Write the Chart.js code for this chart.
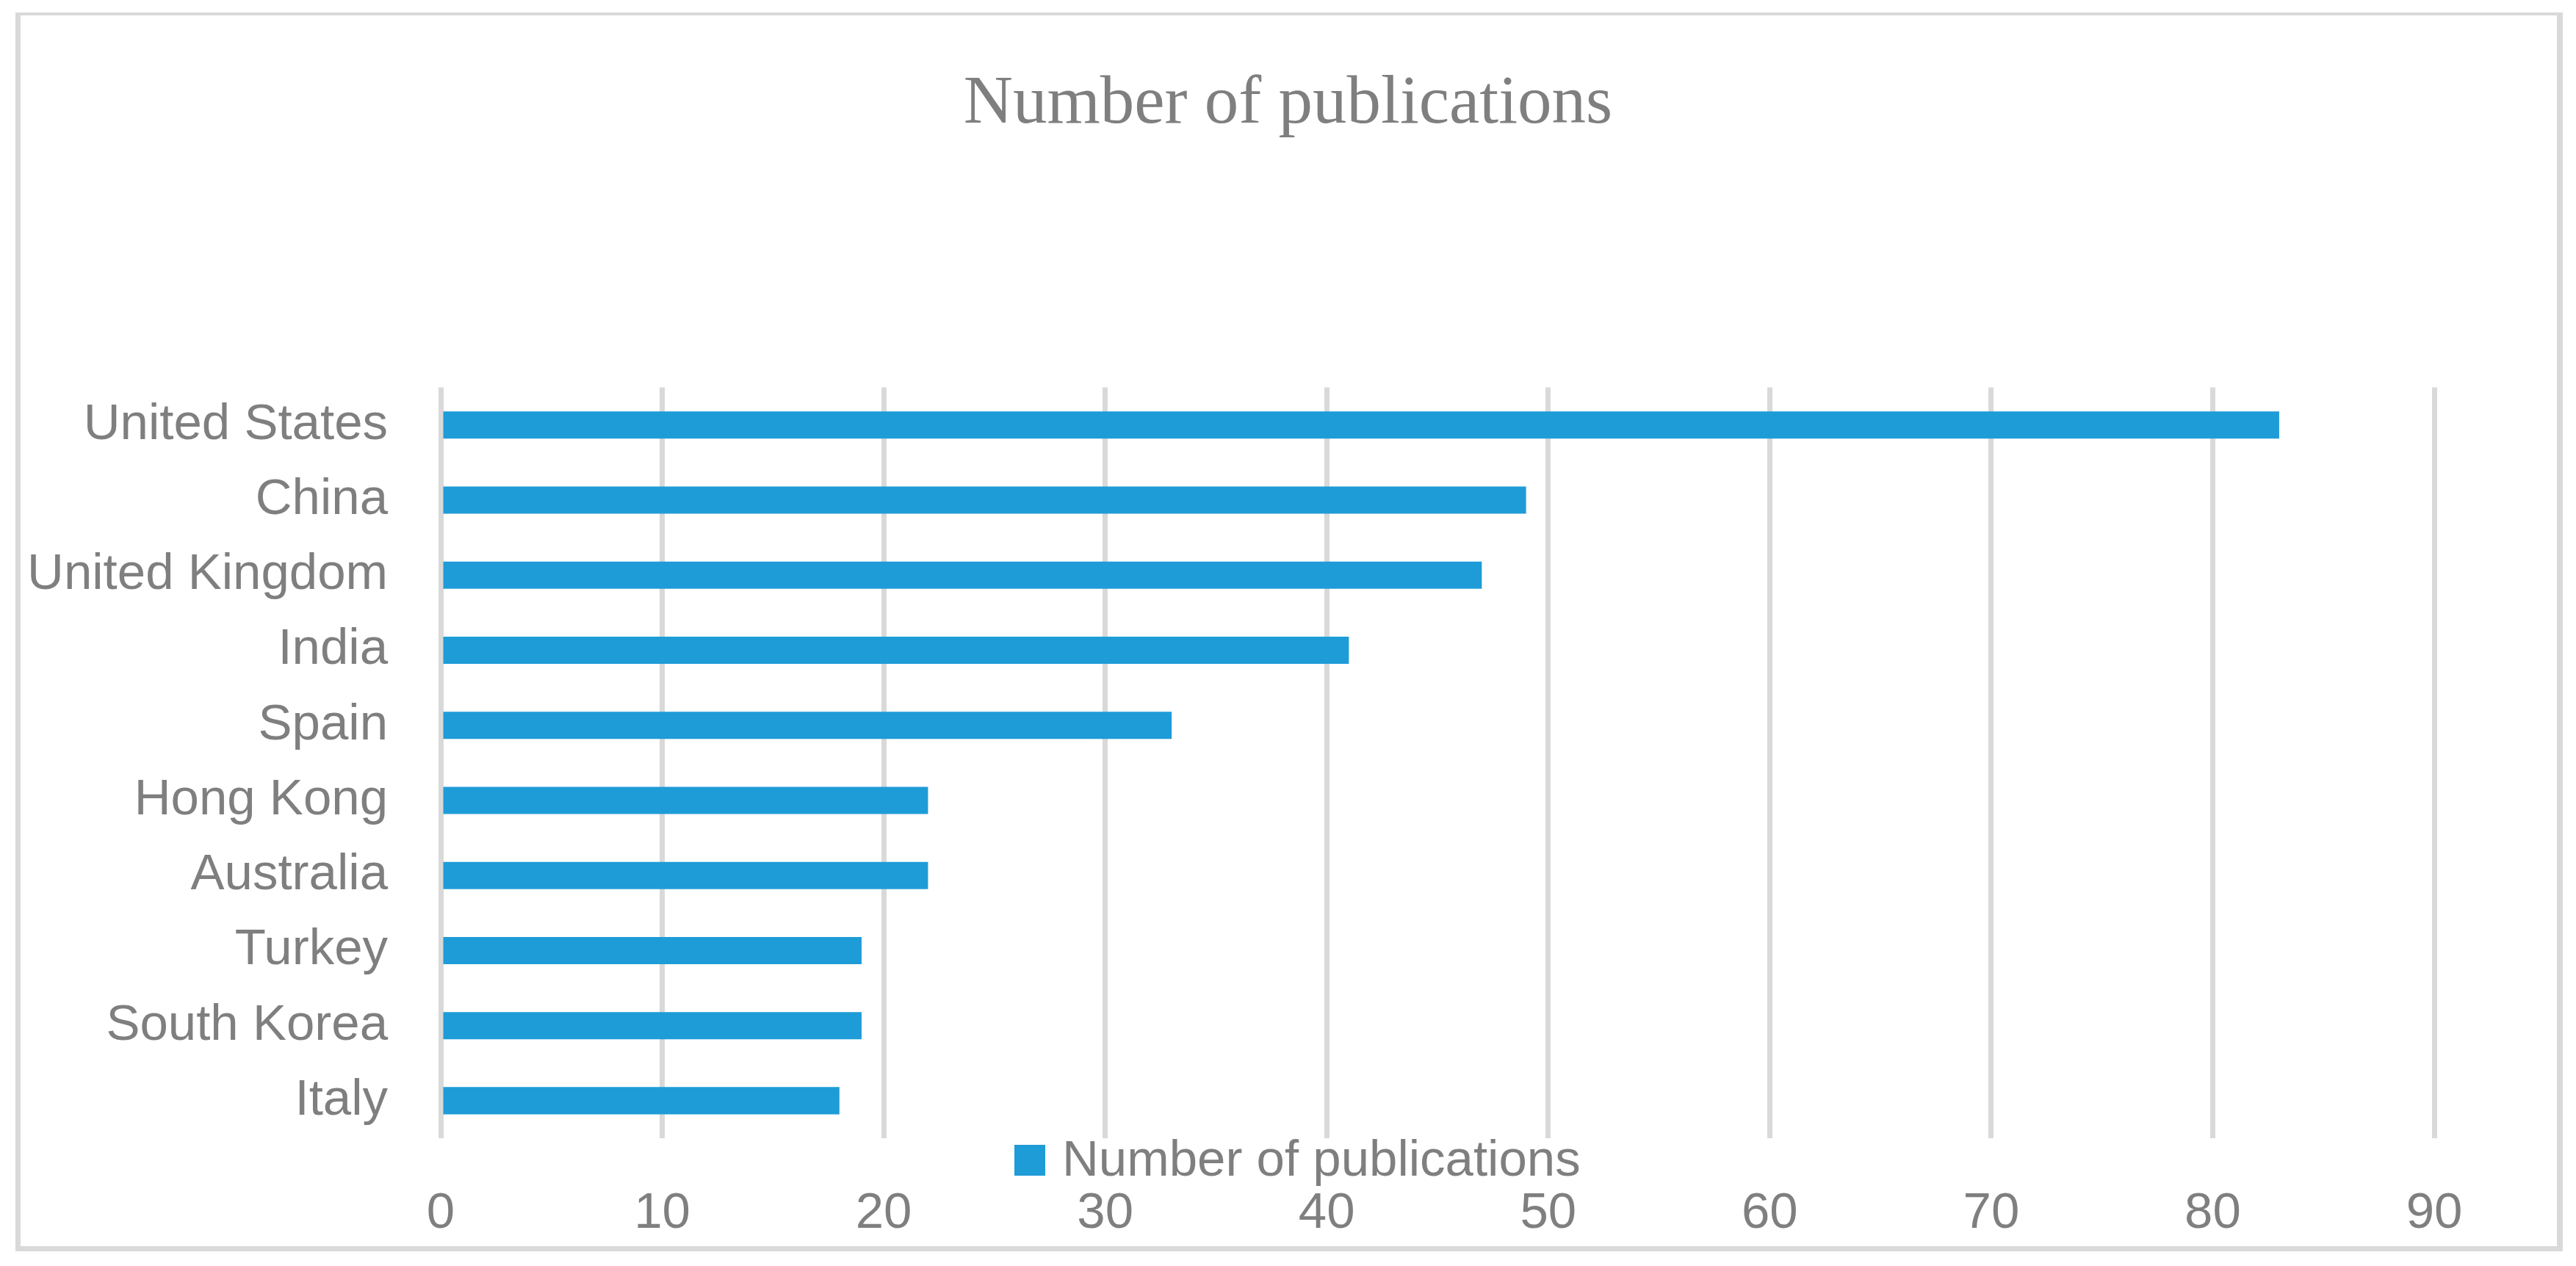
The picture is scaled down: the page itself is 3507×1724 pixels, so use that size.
<!DOCTYPE html>
<html>
<head>
<meta charset="utf-8">
<title>Number of publications</title>
<script src="https://cdn.jsdelivr.net/npm/chart.js@4.4.1/dist/chart.umd.min.js"></script>
<style>
    html, body { margin: 0; padding: 0; background: #fff; }
    #wrap { position: relative; width: 3507px; height: 1724px; }
    #frame {
        position: absolute; left: 21px; top: 17px; width: 3468px; height: 1687px;
        box-sizing: border-box; border-style: solid; border-color: #d9d9d9;
        border-width: 4px 8px 7px 7px;
    }
    #chart { position: absolute; left: 0; top: 0; }
</style>
</head>
<body>
<div id="wrap">
    <div id="frame"></div>
    <canvas id="chart" width="3507" height="1724"></canvas>
</div>
<script>
// data (top to bottom)
const countries = ["United States", "China", "United Kingdom", "India", "Spain",
    "Hong Kong", "Australia", "Turkey", "South Korea", "Italy"];
const publications = [83, 49, 47, 41, 33, 22, 22, 19, 19, 18];
const seriesName = "Number of publications";
const xTicks = [0, 10, 20, 30, 40, 50, 60, 70, 80, 90];

const BAR_COLOR = '#1e9cd7';
const TEXT_COLOR = '#7f7f7f';
const GRID_COLOR = '#d9d9d9';
const LEGEND_X = 1381;

// Excel puts the legend between the plot and the value labels, so draw it there
const legendInPlot = {
    id: 'legendInPlot',
    afterDraw(chart) {
        const ctx = chart.ctx;
        const ds = chart.data.datasets[0];
        const top = chart.chartArea.bottom + 9;
        ctx.save();
        ctx.fillStyle = ds.backgroundColor;
        ctx.fillRect(LEGEND_X, top, 42, 42);
        ctx.font = '69px "Liberation Sans"';
        ctx.fillStyle = TEXT_COLOR;
        ctx.textBaseline = 'alphabetic';
        ctx.textAlign = 'left';
        ctx.fillText(ds.label, LEGEND_X + 65, top + 42);
        ctx.restore();
    }
};

Chart.defaults.font.family = '"Liberation Sans", Arial, sans-serif';
Chart.defaults.color = TEXT_COLOR;

const ctx = document.getElementById("chart").getContext("2d");
new Chart(ctx, {
    type: 'bar',
    data: {
        labels: countries,
        datasets: [{
            label: seriesName,
            data: publications,
            backgroundColor: BAR_COLOR,
            borderWidth: 0,
            categoryPercentage: 1,
            barPercentage: 0.362
        }]
    },
    options: {
        indexAxis: 'y',
        responsive: false,
        animation: false,
        layout: { padding: 0 },
        plugins: {
            legend: { display: false },
            tooltip: { enabled: false },
            title: {
                display: true,
                text: seriesName,
                color: TEXT_COLOR,
                font: { family: '"Liberation Serif", "Times New Roman", serif', size: 93, weight: 'normal', lineHeight: 1.2 },
                padding: { top: 87, bottom: 329 }
            }
        },
        scales: {
            x: {
                min: 0,
                max: 90,
                afterBuildTicks: s => { s.ticks = xTicks.map(v => ({ value: v })); },
                grid: { color: GRID_COLOR, lineWidth: 7, drawTicks: false },
                border: { display: false },
                ticks: { font: { size: 69 }, padding: 62 },
                afterFit: s => { s.height = 174; }
            },
            y: {
                grid: { display: false },
                border: { display: false },
                ticks: { font: { size: 69 }, padding: 64 },
                afterFit: s => { s.width = 600; }
            },
            // empty axis that only reserves the right margin
            yRight: {
                type: 'linear',
                position: 'right',
                grid: { display: false },
                border: { display: false },
                ticks: { display: false },
                afterFit: s => { s.width = 193; }
            }
        }
    },
    plugins: [legendInPlot]
});
</script>
</body>
</html>
